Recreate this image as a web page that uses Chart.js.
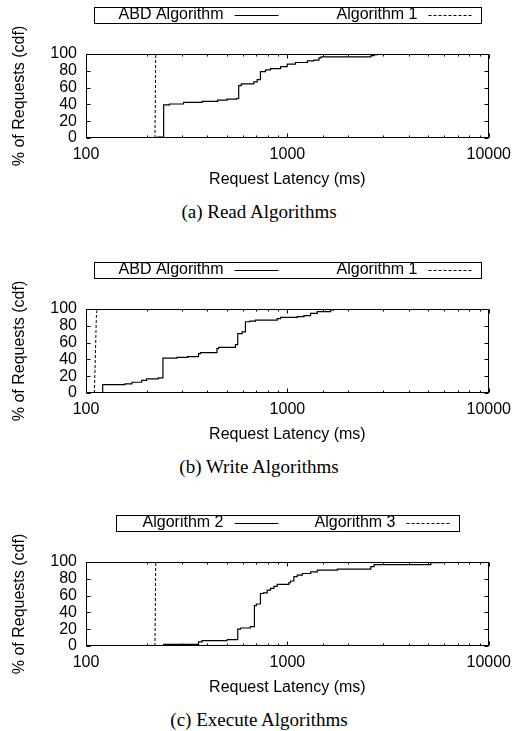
<!DOCTYPE html>
<html><head><meta charset="utf-8">
<script src="https://cdn.jsdelivr.net/npm/chart.js@4.4.0/dist/chart.umd.min.js"></script>
<style>
html,body{margin:0;padding:0;background:#fff;}
#wrap{position:relative;width:518px;height:731px;overflow:hidden;background:#fff;}
canvas{position:absolute;left:0;}
.cap{position:absolute;left:0;width:518px;text-align:center;font-family:"Liberation Serif","Times New Roman",serif;font-size:19px;line-height:19px;color:#000;white-space:nowrap;}
</style></head><body>
<div id="wrap">
  <canvas id="c1" width="518" height="189" style="top:0px"></canvas>
  <div class="cap" style="top:202px">(a) Read Algorithms</div>
  <canvas id="c2" width="518" height="189" style="top:255px"></canvas>
  <div class="cap" style="top:457px">(b) Write Algorithms</div>
  <canvas id="c3" width="518" height="189" style="top:508px"></canvas>
  <div class="cap" style="top:710px">(c) Execute Algorithms</div>
</div>
<script>
// ---- tick labels ----
const xTickLabels = [100, 1000, 10000];
const yTickValues = [0, 20, 40, 60, 80, 100];
const xTitle = 'Request Latency (ms)';
const yTitle = '% of Requests (cdf)';

// ---- (a) Read ----
const readLabels = ['ABD Algorithm', 'Algorithm 1'];
const readAbdX = [100, 226, 243, 260, 305, 377, 450, 502, 560, 573, 590, 681, 708, 735, 779, 825, 925, 998, 1098, 1256, 1355, 1435, 1470, 2600, 2700, 2800, 2900];
const readAbdY = [0, 1, 39.5, 40.5, 42.5, 43.7, 45, 46.2, 47, 62.3, 64.4, 66.8, 69.6, 79, 81, 82.6, 85, 87.9, 89.9, 91.9, 92.7, 95.5, 96.5, 98, 99.2, 100, 100];
const readAlg1X = [220, 221, 222];
const readAlg1Y = [0, 50, 100];

// ---- (b) Write ----
const writeLabels = ['ABD Algorithm', 'Algorithm 1'];
const writeAbdX = [100, 121, 156, 169, 189, 200, 229, 241, 283, 320, 362, 370, 447, 456, 552, 567, 596, 619, 650, 694, 890, 925, 1119, 1208, 1304, 1408, 1640, 1705, 2594];
const writeAbdY = [0, 10, 10.8, 12.8, 15, 16.8, 18, 41.6, 42.4, 43.2, 46.8, 48, 52.8, 54.4, 57.6, 70.8, 72.8, 84.8, 85.6, 86.8, 88.5, 90, 91, 92, 94.8, 96.8, 98.8, 99.6, 100];
const writeAlg1X = [110, 111.5, 112.5, 113, 114];
const writeAlg1Y = [0, 50, 90, 97, 100];

// ---- (c) Execute ----
const execLabels = ['Algorithm 2', 'Algorithm 3'];
const execAlg2X = [100, 243, 362, 377, 502, 567, 585, 655, 686, 702, 735, 760, 794, 825, 857, 890, 1017, 1037, 1077, 1119, 1186, 1305, 1408, 1771, 2595, 2696, 5163, 5900];
const execAlg2Y = [0, 2, 4.8, 6.5, 7.7, 20, 21.4, 23, 48, 50, 62.5, 63.3, 66.5, 68.5, 71, 73.4, 75.4, 77.4, 82.6, 84.3, 86.3, 88.3, 90.3, 91.5, 94.4, 96.8, 99.2, 100];
const execAlg3X = [220, 221, 222];
const execAlg3Y = [0, 50, 100];

const FONT = '"Liberation Sans", Arial, Helvetica, sans-serif';
const pts = (xs, ys) => xs.map((x, i) => ({x, y: ys[i]}));

const framePlugin = {
  id: 'gpFrame',
  afterDraw(chart) {
    const {ctx, chartArea: a, scales: {x, y}} = chart;
    const L = Math.round(a.left) + 0.5, R = Math.round(a.right) - 0.5;
    const T = Math.round(a.top) + 0.5, B = Math.round(a.bottom) - 0.5;
    ctx.save();
    ctx.strokeStyle = '#000'; ctx.lineWidth = 1; ctx.setLineDash([]);
    ctx.beginPath();
    x.ticks.forEach(t => {
      const lg = Math.log10(t.value);
      const major = Math.abs(lg - Math.round(lg)) < 1e-9;
      const len = major ? 4 : 2;
      const px = Math.round(x.getPixelForValue(t.value)) + 0.5;
      ctx.moveTo(px, B); ctx.lineTo(px, B - len);
      ctx.moveTo(px, T); ctx.lineTo(px, T + len);
    });
    y.ticks.forEach(t => {
      const py = Math.round(y.getPixelForValue(t.value)) + 0.5;
      ctx.moveTo(L, py); ctx.lineTo(L + 4, py);
      ctx.moveTo(R, py); ctx.lineTo(R - 4, py);
    });
    ctx.stroke();
    ctx.strokeRect(L, T, R - L, B - T);
    ctx.restore();
  }
};

const legendPlugin = {
  id: 'gpLegend',
  afterDraw(chart) {
    const {ctx, chartArea: a} = chart;
    const ds = chart.data.datasets;
    const n = Math.max(...ds.map(d => d.label.length));
    const pitch = 11 * n + 51;
    const boxW = 2 * pitch - 1;
    const cx = (a.left + a.right) / 2;
    const left = Math.round(cx - boxW / 2) + 0.5;
    const top = Math.round(a.top - 47) + 0.5;
    ctx.save();
    ctx.strokeStyle = '#000'; ctx.lineWidth = 1; ctx.setLineDash([]);
    ctx.strokeRect(left, top, boxW, 16);
    ctx.font = '16px ' + FONT;
    ctx.textAlign = 'right'; ctx.textBaseline = 'alphabetic'; ctx.fillStyle = '#000';
    ds.forEach((d, i) => {
      const start = left + i * pitch;
      const textEnd = start + 11 * n - 14;
      ctx.fillText(d.label, textEnd, top + 11.7);
      ctx.beginPath();
      ctx.setLineDash(d.borderDash || []);
      ctx.lineWidth = 1;
      const sy = Math.round(top + 7.5) + 0.5;
      ctx.moveTo(textEnd + 11, sy); ctx.lineTo(textEnd + 55, sy);
      ctx.stroke();
    });
    ctx.restore();
  }
};

function makeChart(id, labels, s1x, s1y, s2x, s2y, s2stepped) {
  new Chart(document.getElementById(id), {
    type: 'line',
    data: {
      datasets: [
        {label: labels[0], data: pts(s1x, s1y), borderColor: '#000', borderWidth: 1.2, pointRadius: 0, stepped: true, fill: false},
        {label: labels[1], data: pts(s2x, s2y), borderColor: '#000', borderWidth: 1, borderDash: [3, 2], pointRadius: 0, stepped: s2stepped, fill: false}
      ]
    },
    options: {
      responsive: false, animation: false, devicePixelRatio: 1,
      layout: {padding: {left: 0, right: 27, top: 54, bottom: 0}},
      plugins: {legend: {display: false}, tooltip: {enabled: false}},
      scales: {
        x: {
          type: 'logarithmic', min: 100, max: 10000,
          grid: {display: false, drawTicks: false}, border: {display: false},
          ticks: {
            autoSkip: false, maxRotation: 0, minRotation: 0, padding: 7, color: '#000',
            font: {family: FONT, size: 16},
            callback: (v) => xTickLabels.includes(v) ? String(v) : ''
          },
          title: {display: true, text: xTitle, color: '#000', font: {family: FONT, size: 16}, padding: {top: 0, bottom: 0}},
          afterFit: (s) => { s.height = 51; }
        },
        y: {
          type: 'linear', min: 0, max: 100,
          grid: {display: false, drawTicks: false}, border: {display: false},
          afterBuildTicks: (s) => { s.ticks = yTickValues.map(v => ({value: v})); },
          ticks: {autoSkip: false, padding: 9, color: '#000', font: {family: FONT, size: 16}},
          title: {display: true, text: yTitle, color: '#000', font: {family: FONT, size: 16}, padding: {top: 10, bottom: 0}},
          afterFit: (s) => { s.width = 86; }
        }
      }
    },
    plugins: [framePlugin, legendPlugin]
  });
}

makeChart('c1', readLabels, readAbdX, readAbdY, readAlg1X, readAlg1Y, false);
makeChart('c2', writeLabels, writeAbdX, writeAbdY, writeAlg1X, writeAlg1Y, false);
makeChart('c3', execLabels, execAlg2X, execAlg2Y, execAlg3X, execAlg3Y, false);
</script>
</body></html>
